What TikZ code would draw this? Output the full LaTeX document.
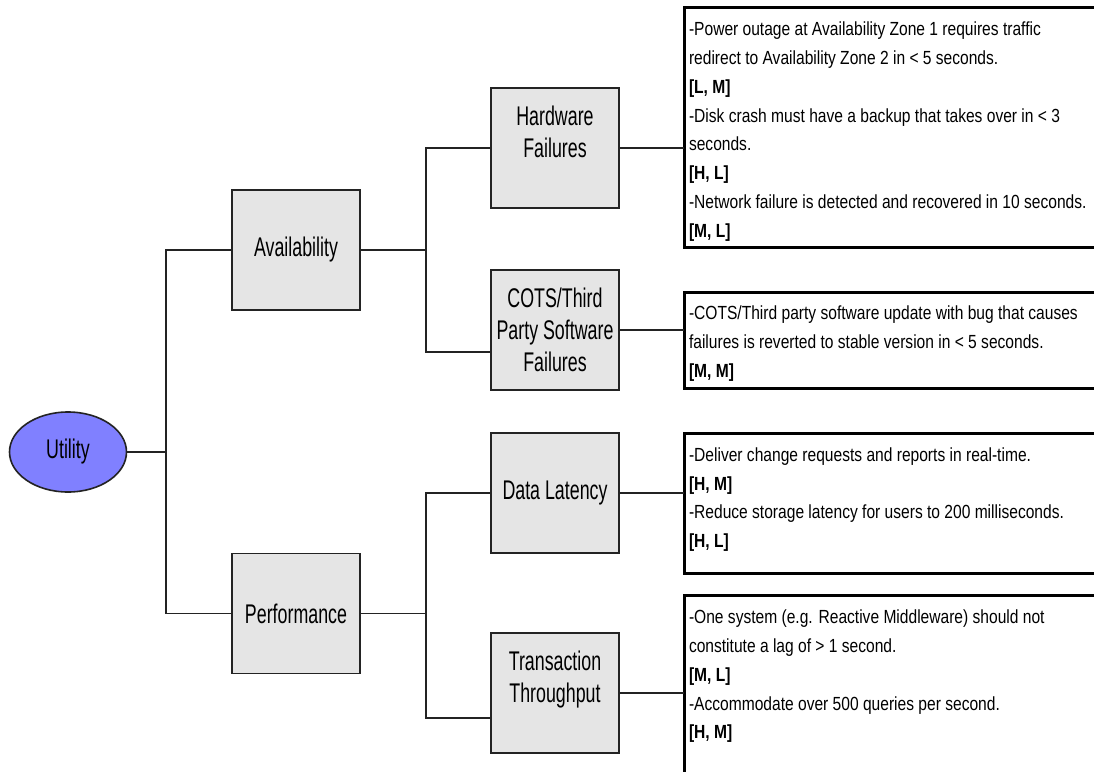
\documentclass[tikz,border=0pt]{standalone}
\usepackage{fontspec}
\setmainfont{Liberation Sans}
\newfontfamily\nodefont[FakeStretch=0.66]{Liberation Sans}
\newfontfamily\boxfont[FakeStretch=0.82]{Liberation Sans}
\usetikzlibrary{shapes.geometric,calc}
\definecolor{nodefill}{RGB}{229,229,229}
\definecolor{utilfill}{RGB}{128,128,255}
\definecolor{linecol}{RGB}{35,35,35}
\begin{document}
\begin{tikzpicture}[x=1pt,y=-1pt,
  conn/.style={draw=linecol,line width=1.6pt},
  attr/.style={draw=linecol,line width=1.8pt,fill=nodefill,minimum width=128pt,minimum height=120pt,inner sep=0pt,align=center,font=\nodefont\fontsize{27pt}{32pt}\selectfont},
  root/.style={ellipse,draw=linecol,line width=1.6pt,fill=utilfill,minimum width=117pt,minimum height=80pt,inner sep=0pt,font=\nodefont\fontsize{27pt}{32pt}\selectfont},
  scen/.style={draw=black,line width=3pt,anchor=north west,inner xsep=5pt,inner ysep=0pt,outer sep=0pt,font=\boxfont\fontsize{19pt}{28.8pt}\selectfont}
]
\clip (0,0) rectangle (1094,771);
\fill[white] (0,0) rectangle (1094,771);

% tree nodes
\node[root] (util) at (68,452) {Utility};
\node[attr] (avail) at (296,250) {Availability};
\node[attr] (perf) at (296,613.5) {Performance};
\node[attr] (hw) at (555,148) {Hardware\\Failures\\\mbox{}};
\node[attr] (cots) at (555,330) {COTS/Third\\Party Software\\Failures};
\node[attr] (dl) at (555,493) {Data Latency};
\node[attr] (tt) at (555,693) {Transaction\\Throughput\\\mbox{}};

% scenario boxes
\node[scen] (r1) at (684,7) {\parbox[c][240pt][t]{416pt}{\raggedright\vspace*{15pt}%
-Power outage at Availability Zone 1 requires traffic\\
redirect to Availability Zone 2 in < 5 seconds.\\
\textbf{[L, M]}\\
-Disk crash must have a backup that takes over in < 3\\
seconds.\\
\textbf{[H, L]}\\
-Network failure is detected and recovered in 10 seconds.\\
\textbf{[M, L]}}};
\node[scen] (r2) at (684,292) {\parbox[c][96pt][t]{416pt}{\raggedright\vspace*{14pt}%
-COTS/Third party software update with bug that causes\\
failures is reverted to stable version in < 5 seconds.\\
\textbf{[M, M]}}};
\node[scen] (r3) at (684,433) {\parbox[c][140pt][t]{416pt}{\raggedright\vspace*{14.5pt}%
-Deliver change requests and reports in real-time.\\
\textbf{[H, M]}\\
-Reduce storage latency for users to 200 milliseconds.\\
\textbf{[H, L]}}};
\node[scen] (r4) at (684,595) {\parbox[c][210pt][t]{416pt}{\raggedright\vspace*{15pt}%
-One system (e.g. Reactive Middleware) should not\\
constitute a lag of > 1 second.\\
\textbf{[M, L]}\\
-Accommodate over 500 queries per second.\\
\textbf{[H, M]}}};

% connectors
\coordinate (j1) at (166,452);
\coordinate (j2) at (426,250);
\coordinate (j3) at (426,613.5);
\draw[conn] (util.east) -- (j1);
\draw[conn] (j1) |- (avail.west);
\draw[conn] (j1) |- (perf.west);
\draw[conn] (avail.east) -- (j2);
\draw[conn] (j2) |- (hw.west);
\draw[conn] (j2) |- ([yshift=-22pt]cots.west);
\draw[conn] (perf.east) -- (j3);
\draw[conn] (j3) |- (dl.west);
\draw[conn] (j3) |- ([yshift=-25pt]tt.west);
\draw[conn] (hw.east) -- (hw.east -| r1.west);
\draw[conn] (cots.east) -- (cots.east -| r2.west);
\draw[conn] (dl.east) -- (dl.east -| r3.west);
\draw[conn] (tt.east) -- (tt.east -| r4.west);
\end{tikzpicture}
\end{document}
